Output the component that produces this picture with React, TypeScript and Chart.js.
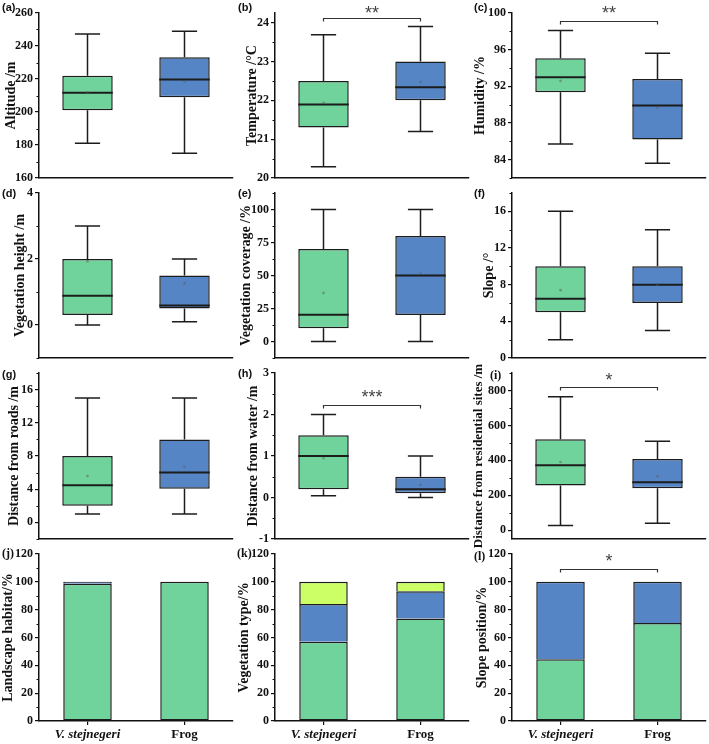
import React, { useEffect, useRef } from "react";
import { Chart, registerables } from "chart.js";

Chart.register(...registerables);

// ---------- data ----------
const categories = ["V. stejnegeri", "Frog"];

// box statistics: [min, q1, median, q3, max, mean]
const altitudeV = [181, 201, 211.7, 222, 247.3, 212];
const altitudeF = [175, 209, 219.7, 233.2, 249, 218.5];
const temperatureV = [20.29, 21.3, 21.89, 22.5, 23.69, 21.94];
const temperatureF = [21.2, 22.0, 22.34, 23.0, 23.9, 22.47];
const humidityV = [85.7, 91.35, 93.0, 95.06, 98.1, 92.6];
const humidityF = [83.6, 86.2, 89.9, 92.8, 95.6, 89.7];
const vegHeightV = [0, 0.3, 0.89, 2.0, 3.0, 1.93];
const vegHeightF = [0.1, 0.5, 0.59, 1.5, 2.0, 1.26];
const vegCoverV = [0, 10, 20.2, 70, 100, 36.8];
const vegCoverF = [0, 20, 50, 80, 100, 51.4];
const slopeV = [2, 5, 6.47, 10, 16, 7.4];
const slopeF = [3, 6, 8, 10, 14, 8];
const roadsV = [1, 2, 4.48, 8, 15, 5.58];
const roadsF = [1, 4.04, 6, 10, 15, 6.7];
const waterV = [0.04, 0.2, 1.0, 1.5, 2.0, 0.95];
const waterF = [0, 0.1, 0.2, 0.5, 1.0, 0.3];
const residV = [27, 256, 372, 521, 764, 391];
const residF = [40, 241, 275, 408, 510, 309];

// stacked percentages
const landscapeGreen = [98.6, 100];
const landscapeBlue = [1.4, 0];
const vegTypeGreen = [56.9, 73.7];
const vegTypeBlue = [27.2, 19.6];
const vegTypeYellow = [15.9, 6.7];
const slopePosGreen = [44.3, 70.4];
const slopePosBlue = [55.7, 29.6];

// y tick labels
const altitudeTicks = [160, 180, 200, 220, 240, 260];
const temperatureTicks = [20, 21, 22, 23, 24];
const humidityTicks = [84, 88, 92, 96, 100];
const vegHeightTicks = [0, 2, 4];
const vegCoverTicks = [0, 25, 50, 75, 100];
const slopeTicks = [0, 4, 8, 12, 16];
const roadsTicks = [0, 4, 8, 12, 16];
const waterTicks = [-1, 0, 1, 2, 3];
const residTicks = [0, 200, 400, 600, 800];
const percentTicks = [0, 20, 40, 60, 80, 100, 120];

// ---------- styles ----------
const SERIF = "'Liberation Serif', 'Times New Roman', serif";
const SANS = "'Liberation Sans', Arial, sans-serif";
const GREEN = "#6fd39b";
const BLUE = "#5585c5";
const YELLOW = "#ccff66";
const EDGE = "#1c1c1c";
const INK = "#111111";

const COLS = [0, 236, 473];
const CANVAS_W = 236;
const AXIS_W = 39;
// chart area top/bottom per row, canvas top/bottom per row
const ROWS = [
  { top: 13, bottom: 178, cTop: 0, cBottom: 200 },
  { top: 193, bottom: 358, cTop: 173, cBottom: 378 },
  { top: 373, bottom: 539, cTop: 353, cBottom: 559 },
  { top: 554, bottom: 721, cTop: 534, cBottom: 744 },
];

type Spec = {
  kind: "box" | "stack";
  col: number;
  row: number;
  stats?: number[][];
  stacks?: { data: number[]; color: string }[];
  min: number;
  max: number;
  ticks: number[];
  title: string;
  titleSize?: number;
  titleC: number;
  label: string;
  labelX: number;
  labelY: number;
  labelSerif?: boolean;
  bracket?: number;
  stars?: string;
  starDy?: number;
};

const panels: Spec[] = [
  { kind: "box", col: 0, row: 0, stats: [altitudeV, altitudeF], min: 160, max: 260, ticks: altitudeTicks, title: "Altitude /m", titleC: 11, label: "(a)", labelX: 2, labelY: 8 },
  { kind: "box", col: 1, row: 0, stats: [temperatureV, temperatureF], min: 20, max: 24.25, ticks: temperatureTicks, title: "Temperature /°C", titleC: 16, label: "(b)", labelX: 238, labelY: 8, bracket: 24.13, stars: "**", starDy: 0 },
  { kind: "box", col: 2, row: 0, stats: [humidityV, humidityF], min: 82, max: 100, ticks: humidityTicks, title: "Humidity /%", titleC: 7, label: "(c)", labelX: 474, labelY: 8, bracket: 99.13, stars: "**", starDy: -3 },
  { kind: "box", col: 0, row: 1, stats: [vegHeightV, vegHeightF], min: -1, max: 4, ticks: vegHeightTicks, title: "Vegetation height /m", titleC: 20, label: "(d)", labelX: 2, labelY: 194 },
  { kind: "box", col: 1, row: 1, stats: [vegCoverV, vegCoverF], min: -12.5, max: 112.5, ticks: vegCoverTicks, title: "Vegetation coverage /%", titleC: 10, label: "(e)", labelX: 238, labelY: 194 },
  { kind: "box", col: 2, row: 1, stats: [slopeV, slopeF], min: 0, max: 18, ticks: slopeTicks, title: "Slope /°", titleC: 16, label: "(f)", labelX: 474, labelY: 194 },
  { kind: "box", col: 0, row: 2, stats: [roadsV, roadsF], min: -2, max: 18, ticks: roadsTicks, title: "Distance from roads /m", titleC: 14, label: "(g)", labelX: 2, labelY: 375 },
  { kind: "box", col: 1, row: 2, stats: [waterV, waterF], min: -1, max: 3, ticks: waterTicks, title: "Distance from water /m", titleC: 17, label: "(h)", labelX: 238, labelY: 374, bracket: 2.24, stars: "***", starDy: -3 },
  { kind: "box", col: 2, row: 2, stats: [residV, residF], min: -50, max: 900, ticks: residTicks, title: "Distance from residential sites /m", titleSize: 13, titleC: 6, label: "(i)", labelX: 490, labelY: 376, labelSerif: true, bracket: 821, stars: "*", starDy: -2 },
  { kind: "stack", col: 0, row: 3, stacks: [{ data: landscapeGreen, color: GREEN }, { data: landscapeBlue, color: BLUE }], min: 0, max: 120, ticks: percentTicks, title: "Landscape habitat/%", titleC: 8, label: "(j)", labelX: 2, labelY: 554, labelSerif: true },
  { kind: "stack", col: 1, row: 3, stacks: [{ data: vegTypeGreen, color: GREEN }, { data: vegTypeBlue, color: BLUE }, { data: vegTypeYellow, color: YELLOW }], min: 0, max: 120, ticks: percentTicks, title: "Vegetation type/%", titleC: 8, label: "(k)", labelX: 237, labelY: 554, labelSerif: true },
  { kind: "stack", col: 2, row: 3, stacks: [{ data: slopePosGreen, color: GREEN }, { data: slopePosBlue, color: BLUE }], min: 0, max: 120, ticks: percentTicks, title: "Slope position/%", titleC: 9, label: "(l)", labelX: 474, labelY: 557, labelSerif: true, bracket: 109.4, stars: "*", starDy: -3 },
];

// ---------- plugins ----------
const boxPlugin = {
  id: "boxWhisker",
  afterDatasetsDraw(chart: any, _args: any, opts: any) {
    const stats: number[][] | undefined = opts && opts.stats;
    if (!stats) return;
    const meta = chart.getDatasetMeta(0);
    const y = chart.scales.y;
    const ctx = chart.ctx as CanvasRenderingContext2D;
    const py = (v: number) => y.getPixelForValue(v);
    ctx.save();
    stats.forEach((s, i) => {
      const el = meta.data[i];
      if (!el) return;
      const x = el.x;
      const w = el.width;
      const [mn, q1, md, q3, mx, mean] = s;
      ctx.strokeStyle = EDGE;
      ctx.lineWidth = 1.5;
      ctx.beginPath();
      ctx.moveTo(x, py(q3));
      ctx.lineTo(x, py(mx));
      ctx.moveTo(x - w / 4, py(mx));
      ctx.lineTo(x + w / 4, py(mx));
      ctx.moveTo(x, py(q1));
      ctx.lineTo(x, py(mn));
      ctx.moveTo(x - w / 4, py(mn));
      ctx.lineTo(x + w / 4, py(mn));
      ctx.stroke();
      ctx.lineWidth = 2;
      ctx.beginPath();
      ctx.moveTo(x - w / 2, py(md));
      ctx.lineTo(x + w / 2, py(md));
      ctx.stroke();
      ctx.fillStyle = "rgba(90,90,90,0.5)";
      ctx.beginPath();
      ctx.arc(x, py(mean), 1.3, 0, Math.PI * 2);
      ctx.fill();
    });
    ctx.restore();
  },
};

const extrasPlugin = {
  id: "extras",
  afterDraw(chart: any, _args: any, opts: any) {
    const ctx = chart.ctx as CanvasRenderingContext2D;
    const y = chart.scales.y;
    const x = chart.scales.x;
    const left = chart.chartArea.left;
    ctx.save();
    // minor ticks
    const vals: number[] = y.ticks.map((t: any) => t.value);
    if (vals.length > 1) {
      const step = vals[1] - vals[0];
      ctx.strokeStyle = INK;
      ctx.lineWidth = 1;
      for (let v = vals[0] - step / 2; v <= y.max + 1e-9; v += step) {
        if (v < y.min - 1e-9) continue;
        const p = Math.round(y.getPixelForValue(v)) + 0.5;
        ctx.beginPath();
        ctx.moveTo(left, p);
        ctx.lineTo(left - 2.5, p);
        ctx.stroke();
      }
    }
    // significance bracket
    if (opts.bracket != null) {
      const x0 = x.getPixelForValue(0);
      const x1 = x.getPixelForValue(1);
      const by = Math.round(y.getPixelForValue(opts.bracket)) + 0.5;
      ctx.strokeStyle = "#333";
      ctx.lineWidth = 1.2;
      ctx.beginPath();
      ctx.moveTo(x0, by + 3);
      ctx.lineTo(x0, by);
      ctx.lineTo(x1, by);
      ctx.lineTo(x1, by + 3);
      ctx.stroke();
      ctx.fillStyle = "#444";
      ctx.font = `18px ${SANS}`;
      ctx.textAlign = "center";
      ctx.textBaseline = "alphabetic";
      ctx.fillText(opts.stars, (x0 + x1) / 2, by + opts.starDy);
    }
    // panel label
    ctx.fillStyle = INK;
    ctx.font = opts.labelSerif ? `bold 12px ${SERIF}` : `bold 11px ${SANS}`;
    ctx.textAlign = "left";
    ctx.textBaseline = "middle";
    ctx.fillText(opts.label, opts.labelX - opts.offX, opts.labelY - opts.offY);
    ctx.restore();
  },
};

function buildConfig(p: Spec): any {
  const g = ROWS[p.row];
  const isStack = p.kind === "stack";
  const tSize = p.titleSize || 14;
  const datasets = isStack
    ? (p.stacks || []).map((s, k) => ({
        data: s.data,
        backgroundColor: s.color,
        borderColor: EDGE,
        borderWidth: 1.5,
        borderSkipped: k === 0 ? false : "bottom",
        barPercentage: 0.5,
        categoryPercentage: 1,
      }))
    : [
        {
          data: (p.stats || []).map((s) => [s[1], s[3]]),
          backgroundColor: [GREEN, BLUE],
          borderColor: EDGE,
          borderWidth: 1.5,
          borderSkipped: false,
          barPercentage: 0.52,
          categoryPercentage: 1,
        },
      ];

  return {
    type: "bar",
    data: { labels: categories, datasets },
    plugins: [boxPlugin, extrasPlugin],
    options: {
      responsive: false,
      animation: false,
      devicePixelRatio: 1,
      events: [],
      layout: {
        padding: { top: g.top - g.cTop, right: 3, left: 0, bottom: 0 },
      },
      plugins: {
        legend: { display: false },
        tooltip: { enabled: false },
        title: { display: false },
        boxWhisker: { stats: isStack ? undefined : p.stats },
        extras: {
          bracket: p.bracket,
          stars: p.stars,
          starDy: p.starDy || 0,
          label: p.label,
          labelX: p.labelX,
          labelY: p.labelY,
          labelSerif: !!p.labelSerif,
          offX: COLS[p.col],
          offY: g.cTop,
        },
      },
      scales: {
        x: {
          type: "category",
          stacked: isStack,
          offset: true,
          afterFit: (s: any) => {
            s.height = g.cBottom - g.bottom;
          },
          ticks: {
            display: isStack,
            padding: 2,
            color: INK,
            font: (ctx: any) => ({
              family: SERIF,
              size: 13,
              weight: "bold",
              style: ctx.index === 0 ? "italic" : "normal",
            }),
          },
          grid: {
            display: isStack,
            drawOnChartArea: false,
            drawTicks: true,
            tickLength: 4,
            offset: false,
            color: INK,
            lineWidth: 1.2,
          },
          border: { display: true, color: INK, width: 1.5 },
        },
        y: {
          type: "linear",
          stacked: isStack,
          min: p.min,
          max: p.max,
          afterBuildTicks: (s: any) => {
            s.ticks = p.ticks.map((v) => ({ value: v }));
          },
          afterFit: (s: any) => {
            s.width = AXIS_W;
          },
          ticks: {
            autoSkip: false,
            padding: 2,
            color: INK,
            font: { family: SERIF, size: 12, weight: "bold" },
            callback: (v: any) => String(v),
          },
          grid: {
            display: true,
            drawOnChartArea: false,
            drawTicks: true,
            tickLength: 4,
            color: INK,
            lineWidth: 1.2,
          },
          border: { display: true, color: INK, width: 1.5 },
          title: {
            display: true,
            text: p.title,
            color: INK,
            font: { family: SERIF, size: tSize, weight: "bold" },
            padding: { top: p.titleC - (tSize * 1.2) / 2, bottom: 0 },
          },
        },
      },
    },
  };
}

function Panel({ spec }: { spec: Spec }) {
  const ref = useRef<HTMLCanvasElement | null>(null);
  const g = ROWS[spec.row];
  const h = g.cBottom - g.cTop;
  useEffect(() => {
    if (!ref.current) return;
    const chart = new Chart(ref.current, buildConfig(spec));
    return () => chart.destroy();
  }, [spec]);
  return (
    <canvas
      ref={ref}
      width={CANVAS_W}
      height={h}
      style={{
        position: "absolute",
        left: COLS[spec.col],
        top: g.cTop,
        width: CANVAS_W,
        height: h,
      }}
    />
  );
}

export default function App() {
  return (
    <div
      style={{
        position: "absolute",
        left: 0,
        top: 0,
        width: 709,
        height: 744,
        background: "#ffffff",
        overflow: "hidden",
      }}
    >
      {panels.map((p) => (
        <Panel key={p.label} spec={p} />
      ))}
    </div>
  );
}
